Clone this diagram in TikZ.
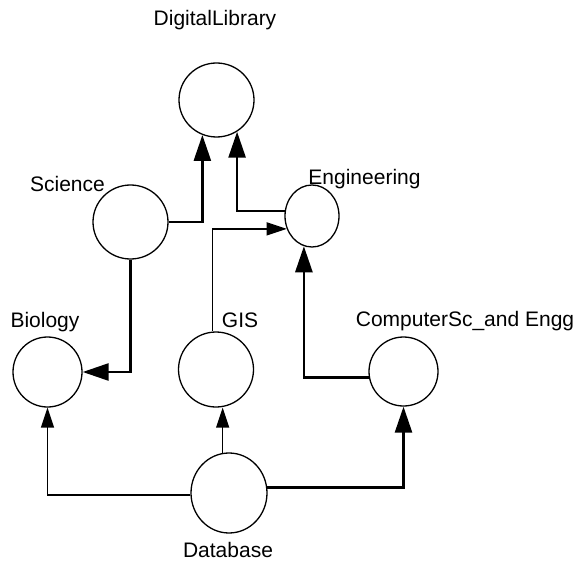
\documentclass[tikz,border=0pt]{standalone}
\usepackage{fontspec}
\setmainfont{Liberation Sans}
\usepackage{tikz}
\usetikzlibrary{positioning,arrows.meta,calc,shapes}

\tikzset{
  klass/.style={ellipse, draw, line width=1.3pt, inner sep=0pt},
  tag/.style={font=\fontsize{21}{25}\selectfont, anchor=base, inner sep=0pt},
  strong/.style={line width=2.6pt, -{Triangle[length=26pt,width=17pt]}},
  weak/.style={line width=1.4pt, -{Triangle[length=20pt,width=13pt]}}
}

\begin{document}
\begin{tikzpicture}[x=1pt,y=-1pt]
\useasboundingbox (0,0) rectangle (580,561);

% classes
\node[klass, minimum width=75pt, minimum height=74pt] (dl) at (216.5,100) {};
\node[klass, minimum width=75pt, minimum height=74pt] (sci) at (130.5,222) {};
\node[klass, minimum width=54pt, minimum height=62pt] (eng) at (312,216) {};
\node[klass, minimum width=69pt, minimum height=70pt] (bio) at (47.5,372) {};
\node[klass, minimum width=75pt, minimum height=75pt] (gis) at (216,369.5) {};
\node[klass, minimum width=69pt, minimum height=69pt] (cse) at (403.5,371.5) {};
\node[klass, minimum width=76pt, minimum height=80pt] (db) at (229,493) {};

% names
\node[tag] (dlText) at (215,26) {DigitalLibrary};
\node[tag] (sciText) at (67.5,192) {Science};
\node[tag] (engText) at (364.5,185) {Engineering};
\node[tag] (bioText) at (45,327) {Biology};
\node[tag] (gisText) at (240,327) {GIS};
\node[tag] (cseText) at (465,326) {ComputerSc\_and Engg};
\node[tag] (dbText) at (228,557) {Database};

% links
\draw[strong] (sci.east) -| (dl.-112);
\draw[strong] (eng.170) -| (dl.-57);
\draw[weak] (gis.95) |- (eng.207);
\draw[strong] (sci.south) |- (bio.east);
\draw[strong] (cse.190) -| (eng.-105);
\draw[weak] (db.183) -| (bio.south);
\draw[weak] (db.99) -- (db.99 |- gis.south);
\draw[strong] (db.8) -| (cse.south);
\end{tikzpicture}
\end{document}
